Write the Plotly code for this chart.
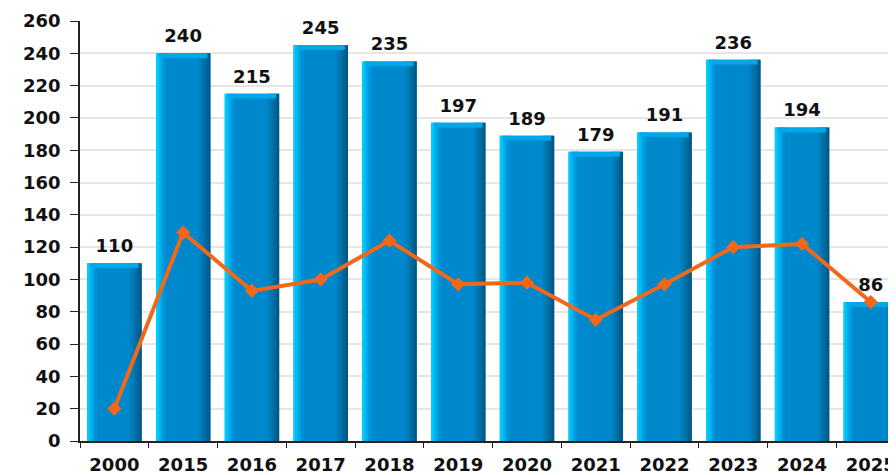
import plotly.graph_objects as go

categories = ["2000", "2015", "2016", "2017", "2018", "2019", "2020", "2021", "2022", "2023", "2024", "2025"]
bar_values = [110, 240, 215, 245, 235, 197, 189, 179, 191, 236, 194, 86]
line_values = [20, 129, 93, 100, 124, 97, 98, 75, 97, 120, 122, 86]
y_ticks = list(range(0, 261, 20))

PX = 1 / 69.3          # one pixel in category units
BW = 0.79              # bar width in category units
L = -BW / 2
FONT = dict(family="DejaVu Sans", size=18, color="#111111", weight="bold")

fig = go.Figure()

# main bar body
fig.add_trace(go.Bar(
    x=categories, y=bar_values, width=BW, offset=L,
    marker=dict(color="#0088cc", line=dict(width=0)), hoverinfo="skip",
))

# left highlight stripes (gradient)
left_cols = ["#00d0ff", "#00bff5", "#00adeb", "#009be0", "#008fd5"]
for i, c in enumerate(left_cols):
    fig.add_trace(go.Bar(
        x=categories, y=bar_values, width=2.2 * PX, offset=L + i * 2 * PX,
        marker=dict(color=c, line=dict(width=0)), hoverinfo="skip",
    ))

# right shade stripes (gradient)
right_cols = ["#0082c2", "#007bb7", "#0073ab", "#006a9e", "#006192", "#005886"]
for i, c in enumerate(right_cols):
    fig.add_trace(go.Bar(
        x=categories, y=bar_values, width=2.2 * PX, offset=-L - (len(right_cols) - i) * 2 * PX,
        marker=dict(color=c, line=dict(width=0)), hoverinfo="skip",
    ))

# top bevel cap
cap = 3
fig.add_trace(go.Bar(
    x=categories, y=[cap] * len(bar_values), base=[v - cap for v in bar_values],
    width=BW - 6 * PX, offset=L + 3 * PX,
    marker=dict(color="#00a8ea", line=dict(width=0)), hoverinfo="skip",
))

# value labels above bars
fig.add_trace(go.Scatter(
    x=categories, y=bar_values, mode="markers+text",
    marker=dict(size=9, opacity=0),
    text=[str(v) for v in bar_values], textposition="top center",
    textfont=FONT, cliponaxis=False, hoverinfo="skip",
))

# line
fig.add_trace(go.Scatter(
    x=categories, y=line_values, mode="lines+markers",
    line=dict(color="#f0681a", width=4),
    marker=dict(symbol="diamond", size=11, color="#f0681a"),
    cliponaxis=False, hoverinfo="skip",
))

fig.update_layout(
    width=888, height=467,
    margin=dict(l=72, r=0, t=13, b=33),
    barmode="overlay",
    showlegend=False,
    plot_bgcolor="white", paper_bgcolor="white",
    font=dict(family="DejaVu Sans", size=18, color="#111111"),
    xaxis=dict(
        type="category", range=[-0.5, 11.28],
        showline=True, linecolor="#222222", linewidth=1.5,
        ticks="outside", ticklen=5, tickcolor="#222222", tickson="boundaries",
        tickfont=FONT, ticklabelstandoff=7, showgrid=False,
    ),
    yaxis=dict(
        range=[0, 260], tickvals=y_ticks,
        showline=True, linecolor="#222222", linewidth=1.5,
        ticks="outside", ticklen=8, tickcolor="#222222",
        tickfont=FONT, ticklabelstandoff=6,
        showgrid=True, gridcolor="#e6e6e6", gridwidth=1.5, zeroline=False,
    ),
)

fig.write_html("out.html")
